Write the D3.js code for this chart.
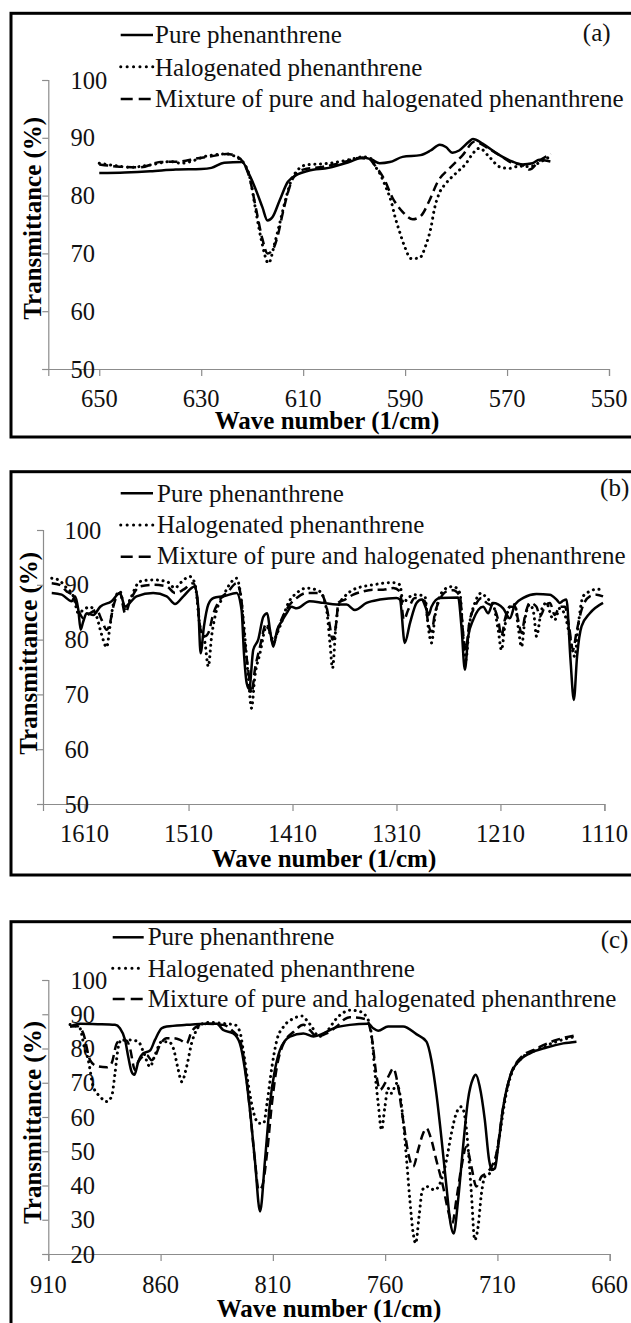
<!DOCTYPE html>
<html>
<head>
<meta charset="utf-8">
<script src="https://cdn.jsdelivr.net/npm/d3@7"></script>
<style>
  body { margin: 0; background: #fff; }
  svg { display: block; }
</style>
</head>
<body>
<div id="chart"></div>
<script>
// series labels
const seriesNames = ["Pure phenanthrene", "Halogenated phenanthrene", "Mixture of pure and halogenated phenanthrene"];

// (a) 660-550 1/cm : [wave number, transmittance]
const pureA = [[650,83.9],[645,84.0],[640,84.2],[635,84.5],[630,84.6],[628,84.8],[625.5,85.7],[622,85.8],[620.5,83.5],[619.5,81.5],[618,78],[617,75.7],[616,76.3],[614.6,79.2],[613,82.4],[611,83.7],[609,84.3],[605,84.8],[601,85.8],[598.3,86.6],[596.5,86.2],[595,85.6],[593,85.8],[590.5,86.7],[587,87],[585,87.8],[583.2,88.8],[582,88.4],[580.7,87.4],[579.4,87.8],[577.5,89.3],[576.7,89.8],[574.8,89],[572.2,87.4],[569,85.9],[567,85.4],[565,85.6],[563.7,86.2],[561.5,85.9]];
const haloA = [[650,85.6],[647,85.2],[644,84.9],[640,85.3],[636,85.9],[634,85.6],[631,86.2],[629.6,86.7],[627,87.1],[625,87.2],[623,86.6],[621.8,85.8],[620.5,83.3],[619.2,76.9],[618.2,72.3],[616.8,68.3],[615.6,71.7],[614.6,75.2],[613.3,79.8],[612,83.3],[609.4,85.3],[604.8,85.6],[601,86.2],[598.3,86.7],[596.5,86.3],[596,85.3],[595,83.9],[593.7,81.3],[592.7,78.9],[592,76.4],[591.1,73.8],[590.1,71.2],[588.8,69.1],[587.2,69.2],[585.9,71.5],[584.9,74.6],[584.3,77.5],[583.3,80.4],[582,82.1],[580,83.9],[578,85.6],[576.7,87.3],[575.4,88.2],[573.5,86.7],[571.5,85],[569.6,84.7],[567.6,85.1],[565.6,85],[563.5,85.8],[561.5,86.8]];
const mixA = [[650,85.4],[646,85.0],[642,84.9],[638,85.8],[634,85.9],[631,86.4],[628,86.8],[625,87.2],[623,86.8],[621.8,85.8],[620.5,83],[619.2,77.5],[618,72.5],[617,70],[616,70.6],[615,73],[614,77],[613,80.5],[612,83],[610,84.5],[606,85],[602,85.8],[599,86.5],[597,86.3],[596,85.3],[594.2,83],[592.4,79.5],[590.5,77.2],[588.5,75.9],[586.9,76.5],[585.2,79.2],[583.6,82.4],[581.3,84.7],[578.7,87],[576.4,89.3],[574.1,88.4],[571.5,87],[568.9,85.6],[567,85.3],[565.6,84.5],[563.7,86],[561.4,87.2]];

// (b) 1650-1110 1/cm
const pureB = [[1641.6,88.5],[1632,88.2],[1622.4,87],[1619.2,87.9],[1616,85.4],[1613.8,81.8],[1611.3,83.3],[1608,84.8],[1601.6,84.5],[1595,86],[1584,87],[1576,88.5],[1571,86],[1568,86.4],[1560,87.9],[1544,88.5],[1531,87.9],[1523,86.5],[1515,87.9],[1504,89.7],[1500.7,86],[1498.4,77.5],[1495.2,82.4],[1491,86.4],[1486,87.6],[1476.6,87.9],[1463.8,88.5],[1459,85.4],[1456.7,77.5],[1454,72],[1451.6,71],[1447.8,78.1],[1443,80],[1438,84.2],[1434.3,84.8],[1431.7,81.8],[1428.5,78.7],[1424.7,81.8],[1420.5,83.3],[1415.7,84.8],[1411,86],[1406,85.7],[1393.4,87],[1380.5,86.7],[1367.6,86.4],[1358,86.4],[1350,85.4],[1338.8,86.7],[1326,87.3],[1310,87.6],[1306.7,87.3],[1302,79.4],[1297,83],[1290.7,86.7],[1285.9,87.3],[1281,85.4],[1279,84.5],[1276.3,86],[1268.3,87.6],[1250.7,87.7],[1247.5,82.4],[1244.2,74.5],[1241,80.6],[1236.2,83.6],[1226.6,86],[1221.8,84.8],[1217,86.7],[1207.4,85.7],[1201,83.9],[1196,86.4],[1188,87.6],[1175.3,88.3],[1162.5,88.2],[1156,87.3],[1153,86.7],[1149.7,87.1],[1146.5,87.3],[1142.6,76.3],[1139.4,69],[1136.3,76.9],[1132,82.4],[1124,84.8],[1111.3,86.7]];
const haloB = [[1641.6,91.2],[1635.3,90.9],[1627.2,89.4],[1620.8,87.9],[1616,84.8],[1611.3,85.4],[1604.8,86],[1598.4,84.2],[1593.6,80.9],[1588.8,78.6],[1585.6,82.4],[1582.4,86.4],[1576,88.8],[1571,85.4],[1566.3,87.3],[1556.7,90.6],[1544,90.9],[1531,90.6],[1523,89.4],[1518,90.3],[1508.7,91.5],[1504,90.3],[1499,82.4],[1494.2,79.4],[1491,75.1],[1487.8,80.6],[1483,85.4],[1478.2,87.3],[1471.8,89.7],[1463.8,91.2],[1460.6,89.1],[1456.7,82.4],[1452.6,73.3],[1449.4,67.5],[1446.2,73.3],[1441.3,77.5],[1435,82.4],[1428.5,80],[1422.1,82.4],[1414,86.7],[1406,88.5],[1396.4,89.4],[1383.7,88.8],[1377.2,85.4],[1374,79.4],[1371.5,74.8],[1368.3,82.4],[1366,86],[1359.6,87.9],[1351.6,89.1],[1342,89.7],[1332.4,90],[1322.8,90.3],[1313.2,90.4],[1306.7,90],[1303.6,86.7],[1298.8,87.6],[1292.3,88.2],[1282.7,87.9],[1279.5,82.4],[1276.3,79.4],[1273,84.2],[1268.3,87.9],[1261.8,89.4],[1255.5,89.7],[1249,88.5],[1245.9,80.6],[1243.3,76.3],[1240,82.4],[1234.6,86.7],[1228.2,88.5],[1223.4,87.6],[1217,86.4],[1212.2,81.8],[1209,78.1],[1205.8,82.4],[1201,86],[1196,86.4],[1193,82.4],[1189.7,78.7],[1186.5,83.6],[1181.7,86.4],[1178,84.8],[1175.3,80.6],[1170.5,85.4],[1165.7,86.7],[1161,84.2],[1157.7,83.6],[1153,85.7],[1148,84.5],[1143.3,80.6],[1138.5,76.9],[1135.3,82.4],[1130.5,87.9],[1124,88.8],[1117.6,89.2],[1111.3,89.1]];
const mixB = [[1641.6,90.3],[1634,90],[1627.2,88.8],[1620.8,87.9],[1616,85.4],[1611.3,83.9],[1604.8,84.8],[1598.4,85.4],[1593.6,83.6],[1588.8,81.8],[1585.6,83],[1582.4,86],[1576,88.5],[1571,84.8],[1566.3,87],[1556.7,89.7],[1544,90],[1531,89.7],[1523,88.5],[1515,89.1],[1505.5,90.3],[1502.3,88.5],[1498.4,81.8],[1494.2,80.6],[1491,81.2],[1486,84.8],[1479.8,87.3],[1471.8,88.8],[1463.8,90.3],[1459.6,87.9],[1455.8,79.4],[1452.6,74.5],[1449.4,70.2],[1446.2,74.5],[1441.3,78.7],[1435,83],[1428.5,79.4],[1422.1,83],[1414,86],[1406,87.6],[1396.4,88.5],[1383.7,88.5],[1376.6,85.4],[1374,82.4],[1371.5,80],[1367.6,83.6],[1366,86.7],[1359.6,87.3],[1351.6,88.2],[1342,88.8],[1332.4,89.1],[1322.8,89.1],[1313.2,89.4],[1306.7,88.8],[1302.9,83.6],[1298.8,85.4],[1292.3,87.6],[1282.7,87],[1279.5,83],[1276.3,81.5],[1273,84.8],[1268.3,87.3],[1261.8,88.8],[1255.5,89],[1249,87.9],[1245.9,81.2],[1243.3,78.1],[1240,83],[1234.6,86],[1228.2,87.6],[1223.4,86.7],[1217,86],[1212.2,83.6],[1209,80.6],[1205.8,83.6],[1201,86],[1196,86],[1193,83.6],[1189.7,81.2],[1186.5,84.2],[1181.7,86.7],[1175.3,86],[1172,84.2],[1167.3,86],[1162.5,86.7],[1157.7,84.5],[1153,86],[1148,86],[1144,82.4],[1140.2,78.1],[1137,81.2],[1132,85.4],[1124,87.9],[1117.6,88.2],[1111.3,87.9]];

// (c) 910-660 1/cm
const pureC = [[900.3,86.4],[895.9,87.2],[888,87.1],[880.3,86.9],[878.1,85.9],[875.8,82.5],[874.4,77.6],[872.9,73.2],[871.7,72.3],[869.9,76.2],[867.7,78.6],[864.7,79.4],[862.5,82.5],[859.5,85.9],[857.3,86.4],[848.4,86.9],[839.5,87.2],[835,87.2],[832.1,85.4],[827.6,84.4],[824.7,81.5],[822.4,73.7],[820.2,62],[818,47.4],[815.7,32.4],[813.5,47.4],[811.3,64],[809.1,73.7],[806.8,79.6],[802.4,83.5],[796.4,84.4],[792,83.5],[787.5,84.4],[783,85.9],[775.7,86.9],[767.5,87.2],[765.3,85.9],[763.1,85.2],[758.7,86.4],[752,86.4],[746.1,84.2],[741.6,82],[739.4,76.6],[737.2,66.9],[735,54.3],[732.7,39.7],[730.9,29],[729.5,26],[727.5,35.8],[725.3,51.3],[723.1,65],[720.8,71.3],[719.6,72.3],[717.9,68.9],[715.6,59.1],[713.7,47.4],[712.6,44.5],[711.1,45],[709.7,51.3],[707.4,63],[704.4,71.8],[700,76.6],[695.5,78.6],[688.1,80.3],[680.7,81.5],[674.8,82]];
const haloC = [[900.3,87],[896,86],[894,80.5],[892.2,76.6],[890,68.9],[887,66],[884,64.5],[881.8,66],[880.3,72.7],[878.8,80.5],[877.4,82.5],[873.6,82.5],[869.9,82],[867.7,79.1],[864.7,74.7],[862.5,78.1],[859.5,82],[856.5,82],[854.3,80],[852.1,73.7],[850.6,70.3],[848.4,74.7],[846.2,81.5],[844,85.4],[841,87.3],[838,87.6],[832.1,87.3],[826.9,86.9],[824.7,84.9],[823,78.6],[820.8,68.9],[818.5,61.1],[816.3,58.2],[814.1,58.2],[812.6,64],[810.4,74.7],[808.2,82.5],[805.2,86.4],[800.7,88.8],[797,89.5],[795,88.3],[792.7,86.4],[789.5,83.5],[786.1,84.9],[782,88.5],[779,90.3],[775.7,91.2],[771.2,90.8],[767.5,88.3],[766,83.5],[764.5,72.7],[763.1,64],[761.6,56.2],[760.1,63],[758.7,68.4],[757.2,66.9],[754.9,69.8],[753.5,66.9],[751.7,57.2],[750.2,45.5],[749,35.8],[747.5,26],[746.4,23.1],[744.9,30.9],[743.4,38.7],[741.6,39.7],[737.9,38.7],[735,41.6],[732.7,47.4],[730.5,55.2],[728.3,61.1],[726,63],[724.5,60.1],[723.1,51.3],[721.6,37.7],[720.1,24.1],[718.6,28],[717.1,37.7],[715.6,42.6],[713.4,43.6],[711.1,46.5],[708.9,55.2],[706.6,65],[703.7,72.7],[698.5,77.6],[692.6,79.6],[683.7,82],[674.8,83.6]];
const mixC = [[900.3,86.4],[897,86.5],[894.4,84.4],[891.4,76.6],[888.5,74.9],[884,74.5],[881.8,75.7],[879.5,81.5],[877.4,82.5],[875.1,82.3],[873.6,80],[871.4,73.7],[869.9,76.2],[866.2,78.1],[864,76.6],[862.5,77.6],[860.3,81],[857.3,83],[854.3,83],[851.3,82.5],[848.4,81.5],[846.2,84.9],[844,86.4],[839.5,87.2],[832.1,86.9],[827.6,84.9],[824.7,82.5],[822.4,74.7],[820.2,62],[818,47.4],[816.3,38.7],[814.8,39.7],[812.6,49.4],[810.4,64],[808.2,74.7],[805.2,81.5],[800.7,84.9],[796.4,86.9],[793.5,85.4],[790.6,83.5],[786.1,84.4],[781.6,86.4],[778,88.6],[775.7,89.1],[768.3,88.5],[766,83.5],[763.8,71.8],[762.3,67.9],[760.1,69.8],[757.9,72.7],[756.4,74.2],[754.2,68.9],[752,59.1],[749.7,49.4],[747.5,45.5],[745.3,50.4],[743.1,55.2],[741.6,56.7],[739.4,53.3],[737.2,47.4],[734.2,39.7],[732,32.8],[730.1,29],[728.3,35.8],[726,45.5],[723.8,51.3],[721.6,45.5],[719.4,39.7],[717.1,42.6],[714.9,43.6],[712.6,45.5],[710.4,49.4],[707.4,63],[704.4,71.8],[700,77.1],[692.6,80],[683.7,82.5],[674.8,83.9]];

// axis ticks
const xTicksA = [650, 630, 610, 590, 570, 550];
const xTicksB = [1610, 1510, 1410, 1310, 1210, 1110];
const xTicksC = [910, 860, 810, 760, 710, 660];
const yTicksAB = [50, 60, 70, 80, 90, 100];
const yTicksC = [20, 30, 40, 50, 60, 70, 80, 90, 100];

const FONT = '"Liberation Serif", "Times New Roman", serif';
const W = 631, H = 1323;

const svg = d3.select("#chart").append("svg")
  .attr("width", W)
  .attr("height", H)
  .style("background", "#fff");

// line styles per series
const styles = [
  { width: 2.5, dash: null, cap: "butt" },
  { width: 3, dash: "0.1 5.6", cap: "round" },
  { width: 2.5, dash: "9 5", cap: "butt" }
];

const panels = [
  { tag: "(a)", series: [pureA, haloA, mixA], xDom: [660, 550], xRng: [48.3, 609], yDom: [50, 100], yRng: [369, 80],
    xTicks: xTicksA, yTicks: yTicksAB, top: 13.3, bottom: 437, yLabX: 70.4,
    legX: [120.7, 153], legY: [35, 66.7, 99], legTx: 155, legBase: [43.3, 76, 107.3], tagX: 596.7, tagY: 40.5,
    xLabY: 407, titleY: 429, titleX: 327, yTitleY: 218.3, yTitleX: 40.7 },
  { tag: "(b)", series: [pureB, haloB, mixB], xDom: [1650, 1110], xRng: [43, 604.4], yDom: [50, 100], yRng: [804, 530],
    xTicks: xTicksB, yTicks: yTicksAB, top: 471.7, bottom: 875, yLabX: 64.4,
    legX: [120.7, 153], legY: [493.3, 525, 556.7], legTx: 157, legBase: [501.7, 533.3, 564], tagX: 614.7, tagY: 495.5,
    xLabY: 841.5, titleY: 867, titleX: 324, yTitleY: 653.3, yTitleX: 37 },
  { tag: "(c)", series: [pureC, haloC, mixC], xDom: [910, 660], xRng: [48.3, 609.7], yDom: [20, 100], yRng: [1254, 980],
    xTicks: xTicksC, yTicks: yTicksC, top: 921.7, bottom: 1345, yLabX: 70.4,
    legX: [112.7, 143.7], legY: [937.3, 968.3, 999], legTx: 147.7, legBase: [945, 976.7, 1007.3], tagX: 614.5, tagY: 948,
    xLabY: 1293, titleY: 1317, titleX: 329, yTitleY: 1122.5, yTitleX: 40.5 }
];

panels.forEach(drawPanel);

function drawPanel(p) {
  const g = svg.append("g");

  // frame (right side runs off the picture)
  g.append("rect")
    .attr("x", 11).attr("y", p.top)
    .attr("width", 660).attr("height", p.bottom - p.top)
    .style("fill", "none").style("stroke", "#000").style("stroke-width", 3);

  const x = d3.scaleLinear().domain(p.xDom).range(p.xRng);
  const y = d3.scaleLinear().domain(p.yDom).range(p.yRng);

  // axes
  const yAx = g.append("g")
    .attr("transform", `translate(${p.xRng[0]},0)`)
    .call(d3.axisLeft(y).tickValues(p.yTicks).tickSize(6).tickFormat(""));
  const xAx = g.append("g")
    .attr("transform", `translate(0,${p.yRng[0]})`)
    .call(d3.axisBottom(x).tickValues(p.xTicks).tickSize(7).tickFormat(""));
  [yAx, xAx].forEach(a => {
    a.select(".domain").style("stroke", "#8c8c8c").style("stroke-width", 1.2);
    a.selectAll(".tick line").style("stroke", "#8c8c8c").style("stroke-width", 1.2);
  });

  // y tick labels (sit right of the axis line)
  g.selectAll("text.ylab")
    .data(p.yTicks)
    .enter().append("text")
      .attr("class", "ylab")
      .attr("x", p.yLabX)
      .attr("y", d => y(d) + 8.5)
      .style("font-family", FONT)
      .style("font-size", "24.5px")
      .style("fill", "#111")
      .text(d => d);

  // x tick labels
  g.selectAll("text.xlab")
    .data(p.xTicks)
    .enter().append("text")
      .attr("class", "xlab")
      .attr("x", d => x(d))
      .attr("y", p.xLabY)
      .attr("text-anchor", "middle")
      .style("font-family", FONT)
      .style("font-size", "24.5px")
      .style("fill", "#111")
      .text(d => d);

  // titles
  g.append("text")
    .attr("x", p.titleX).attr("y", p.titleY)
    .attr("text-anchor", "middle")
    .style("font-family", FONT).style("font-size", "25px").style("font-weight", "bold")
    .text("Wave number (1/cm)");
  g.append("text")
    .attr("transform", `translate(${p.yTitleX},${p.yTitleY}) rotate(-90)`)
    .attr("text-anchor", "middle")
    .style("font-family", FONT).style("font-size", "25px").style("font-weight", "bold")
    .text("Transmittance (%)");

  // curves
  const line = d3.line()
    .x(d => x(d[0]))
    .y(d => y(d[1]))
    .curve(d3.curveMonotoneX);

  p.series.forEach((s, i) => {
    g.append("path")
      .datum(s)
      .attr("d", line)
      .style("fill", "none")
      .style("stroke", "#000")
      .style("stroke-width", styles[i].width)
      .style("stroke-linecap", styles[i].cap)
      .style("stroke-linejoin", "round")
      .style("stroke-dasharray", styles[i].dash);
  });

  // legend
  seriesNames.forEach((name, i) => {
    g.append("line")
      .attr("x1", p.legX[0]).attr("x2", p.legX[1])
      .attr("y1", p.legY[i]).attr("y2", p.legY[i])
      .style("stroke", "#000")
      .style("stroke-width", i === 1 ? 3 : 2.5)
      .style("stroke-linecap", styles[i].cap)
      .style("stroke-dasharray", i === 0 ? null : (i === 1 ? "0.1 6.3" : "12 6"));
    g.append("text")
      .attr("x", p.legTx).attr("y", p.legBase[i])
      .style("font-family", FONT).style("font-size", "25px").style("fill", "#111")
      .text(name);
  });

  // panel tag
  g.append("text")
    .attr("x", p.tagX).attr("y", p.tagY)
    .attr("text-anchor", "middle")
    .style("font-family", FONT).style("font-size", "25px").style("fill", "#111")
    .text(p.tag);
}
</script>
</body>
</html>
